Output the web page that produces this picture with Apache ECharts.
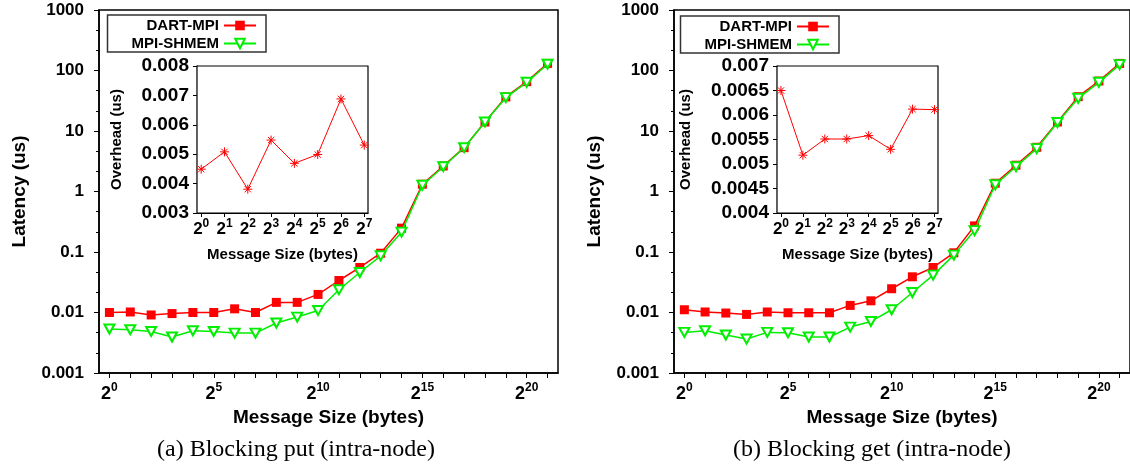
<!DOCTYPE html>
<html><head><meta charset="utf-8">
<script src="https://cdn.jsdelivr.net/npm/echarts@6/dist/echarts.min.js"></script>
<style>html,body{margin:0;padding:0;background:#fff}#c{width:1130px;height:464px}</style>
</head><body><div id="c"></div>
<script>
// ---- data ----
const exponents = [0,1,2,3,4,5,6,7,8,9,10,11,12,13,14,15,16,17,18,19,20,21];
const putDart   = [0.0100,0.0102,0.0091,0.0096,0.0100,0.0100,0.0115,0.0100,0.0147,0.0147,0.0199,0.0338,0.0555,0.0955,0.248,1.32,2.64,5.3,14.1,36.6,65.4,131];
const putShmem  = [0.00533,0.00519,0.00486,0.00393,0.00499,0.00486,0.00457,0.00457,0.0067,0.0084,0.0108,0.0238,0.0458,0.0865,0.213,1.27,2.57,5.3,14.1,35.6,63.8,127];
const getDart   = [0.0111,0.0102,0.0098,0.0093,0.0102,0.0099,0.0099,0.0099,0.0131,0.0156,0.0247,0.0389,0.0555,0.097,0.27,1.37,2.72,5.38,14.1,36.9,67,131];
const getShmem  = [0.00469,0.00499,0.00424,0.00364,0.00469,0.00463,0.00393,0.00393,0.00574,0.00711,0.0111,0.0214,0.0415,0.0888,0.226,1.29,2.57,5.12,13.8,34.7,63.8,125];
const insetExponents = [0,1,2,3,4,5,6,7];
const putOverhead = [0.00449,0.00508,0.00381,0.00548,0.00469,0.00499,0.00688,0.00531];
const getOverhead = [0.00650,0.00518,0.00551,0.00551,0.00558,0.00530,0.00612,0.00611];
const yTickLabels = ['0.001','0.01','0.1','1','10','100','1000'];
const xLabelExponents = [0,5,10,15,20];
const seriesNames = ['DART-MPI','MPI-SHMEM'];
const captions = ['(a) Blocking put (intra-node)','(b) Blocking get (intra-node)'];

// ---- styles ----
const FONT = 'Liberation Sans';
const RED = '#ff0000', GREEN = '#00ee00';
const STAR = 'path://M5 0 L5 10 M0 5 L10 5 M1.5 1.5 L8.5 8.5 M8.5 1.5 L1.5 8.5';
const bold = (size) => ({fontFamily: FONT, fontWeight: 'bold', fontSize: size, color: '#000'});

function mainX(gi) {
  return {
    type: 'category', gridIndex: gi, data: exponents.map(String), boundaryGap: true,
    axisLine: {onZero: false, lineStyle: {color: '#000', width: 1.5}},
    axisTick: {show: true, alignWithLabel: true, interval: 0, length: 5, lineStyle: {color: '#000', width: 1}},
    axisLabel: {
      interval: 0, margin: 9,
      formatter: (v) => xLabelExponents.includes(+v) ? '{b|2}{s|' + v + '}' : '',
      rich: {
        b: Object.assign(bold(18), {lineHeight: 24}),
        s: Object.assign(bold(12), {lineHeight: 12, verticalAlign: 'top'})
      }
    },
    splitLine: {show: false},
    name: 'Message Size (bytes)', nameLocation: 'middle', nameGap: 29,
    nameTextStyle: bold(19)
  };
}
function mainY(gi) {
  return {
    type: 'log', gridIndex: gi, logBase: 10, min: 0.001, max: 1000, splitNumber: 6,
    axisLine: {show: true, onZero: false, lineStyle: {color: '#000', width: 1.5}},
    axisTick: {show: true, length: 5, lineStyle: {color: '#000', width: 1}},
    axisLabel: Object.assign(bold(17), {margin: 15,
      formatter: (v) => yTickLabels[Math.round(Math.log10(v)) + 3]}),
    splitLine: {show: false},
    name: 'Latency (us)', nameLocation: 'middle', nameGap: 70,
    nameTextStyle: bold(19)
  };
}
// helper axis in decade space that only draws minor ticks on the log axis
function minorY(gi) {
  return {
    type: 'value', gridIndex: gi, min: -3, max: 3, interval: 1, position: 'left',
    axisLine: {show: false, onZero: false}, axisTick: {show: false}, axisLabel: {show: false},
    splitLine: {show: false}, minorSplitLine: {show: false},
    minorTick: {show: true, splitNumber: 3, length: 3, lineStyle: {color: '#000', width: 1}}
  };
}
function insetX(gi) {
  return {
    type: 'value', gridIndex: gi, min: -0.18, max: 7.16, splitNumber: 7,
    axisLine: {onZero: false, lineStyle: {color: '#000', width: 1.2}},
    axisTick: {show: true, length: 4, lineStyle: {color: '#000', width: 1}},
    axisLabel: {
      margin: 5, showMinLabel: false, showMaxLabel: false,
      formatter: (v) => (Math.abs(v - Math.round(v)) < 1e-6 && v > -0.5) ? '{b|2}{s|' + Math.round(v) + '}' : '',
      rich: {
        b: Object.assign(bold(17), {lineHeight: 22}),
        s: Object.assign(bold(12), {lineHeight: 12, verticalAlign: 'top'})
      }
    },
    splitLine: {show: false},
    name: 'Message Size (bytes)', nameLocation: 'middle', nameGap: 34,
    nameTextStyle: bold(15)
  };
}
function insetY(gi, min, max, interval, digits, gap) {
  return {
    type: 'value', gridIndex: gi, min: min, max: max, interval: interval,
    axisLine: {show: true, onZero: false, lineStyle: {color: '#000', width: 1.2}},
    axisTick: {show: true, length: 4, lineStyle: {color: '#000', width: 1}},
    axisLabel: Object.assign(bold(19), {margin: 8,
      formatter: (v) => String(parseFloat(v.toFixed(digits)))}),
    splitLine: {show: false},
    name: 'Overhead (us)', nameLocation: 'middle', nameGap: gap,
    nameTextStyle: bold(15)
  };
}
function mainSeries(xi, yi, dart, shmem) {
  return [
    {type: 'line', name: seriesNames[0], xAxisIndex: xi, yAxisIndex: yi, data: dart,
     symbol: 'rect', symbolSize: 9, color: RED, lineStyle: {color: RED, width: 1.5},
     itemStyle: {color: RED}, z: 3},
    {type: 'line', name: seriesNames[1], xAxisIndex: xi, yAxisIndex: yi, data: shmem,
     symbol: 'emptyTriangle', symbolRotate: 180, symbolSize: [10, 9], color: GREEN,
     lineStyle: {color: GREEN, width: 1.5}, itemStyle: {color: GREEN, borderColor: GREEN, borderWidth: 1.2}, z: 4}
  ];
}
function insetSeries(xi, yi, vals) {
  return {type: 'line', name: 'Overhead', xAxisIndex: xi, yAxisIndex: yi,
    data: insetExponents.map((e, i) => [e, vals[i]]),
    symbol: STAR, symbolSize: 9, color: RED, lineStyle: {color: RED, width: 1},
    itemStyle: {color: RED, borderColor: RED, borderWidth: 1}, z: 6};
}
function legend(right, top) {
  return {orient: 'vertical', align: 'right', right: right, top: top,
    itemWidth: 32, itemHeight: 12, itemGap: 3, padding: [3, 9, 1, 24],
    borderColor: '#333', borderWidth: 1.5, backgroundColor: '#fff', selectedMode: false,
    textStyle: Object.assign(bold(15), {lineHeight: 14}), data: seriesNames, z: 10};
}

const option = {
  animation: false,
  backgroundColor: '#fff',
  grid: [
    {left: 99, top: 10, width: 459, height: 363, show: true, borderColor: '#000', borderWidth: 1.5, backgroundColor: '#fff'},
    {left: 197, top: 66, width: 171, height: 147, show: true, borderColor: '#000', borderWidth: 1.2, backgroundColor: '#fff', z: 5},
    {left: 674, top: 10, width: 459, height: 363, show: true, borderColor: '#000', borderWidth: 1.5, backgroundColor: '#fff'},
    {left: 777, top: 66, width: 161, height: 147, show: true, borderColor: '#000', borderWidth: 1.2, backgroundColor: '#fff', z: 5}
  ],
  xAxis: [mainX(0), insetX(1), mainX(2), insetX(3)],
  yAxis: [mainY(0), insetY(1, 0.003, 0.008, 0.001, 3, 73), mainY(2), insetY(3, 0.004, 0.007, 0.0005, 4, 84),
          minorY(0), minorY(2)],
  legend: [legend(1130 - 266, 15), legend(1130 - 839, 16)],
  series: [].concat(mainSeries(0, 0, putDart, putShmem), [insetSeries(1, 1, putOverhead)],
                    mainSeries(2, 2, getDart, getShmem), [insetSeries(3, 3, getOverhead)]),
  graphic: [
    {type: 'text', x: 296, y: 450, style: {text: captions[0], font: '24px "Liberation Serif"', align: 'center', verticalAlign: 'middle', fill: '#000'}},
    {type: 'text', x: 872, y: 450, style: {text: captions[1], font: '24px "Liberation Serif"', align: 'center', verticalAlign: 'middle', fill: '#000'}}
  ]
};
const chart = echarts.init(document.getElementById('c'));
chart.setOption(option);
</script></body></html>
